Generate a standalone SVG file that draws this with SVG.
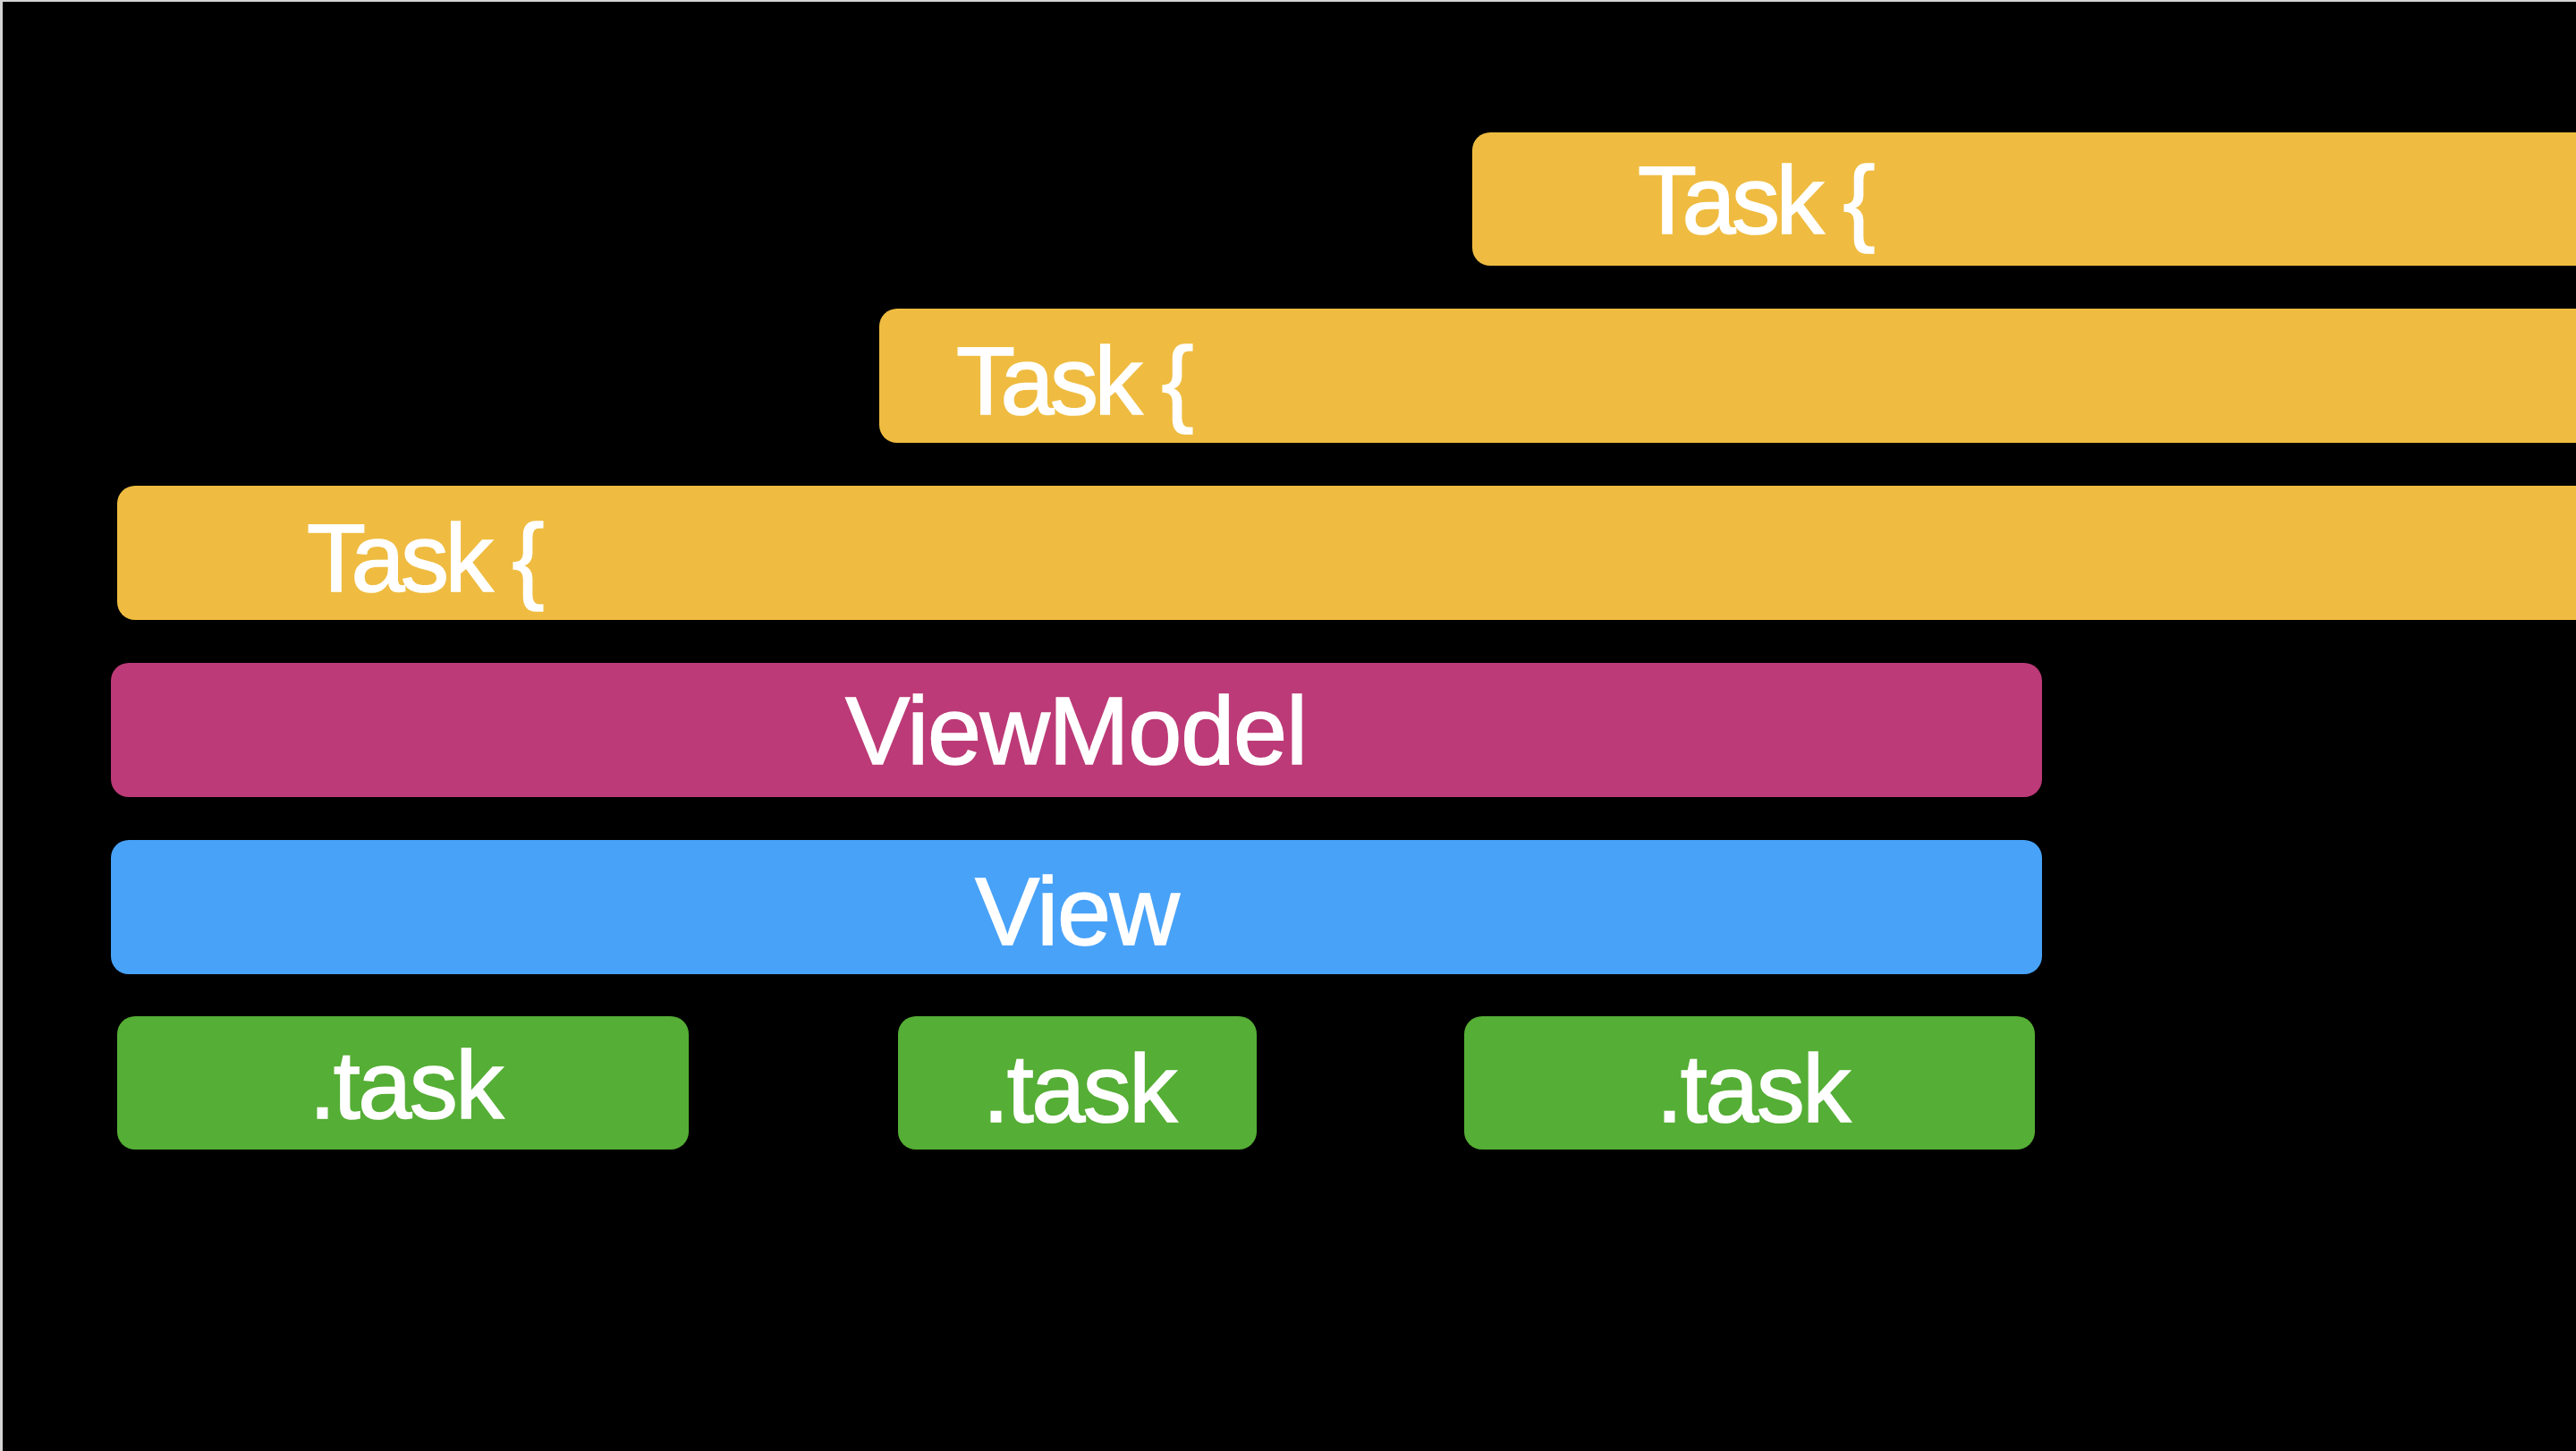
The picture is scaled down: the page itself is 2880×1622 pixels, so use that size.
<svg xmlns="http://www.w3.org/2000/svg" width="2880" height="1622" viewBox="0 0 2880 1622">
<style>
.lbl{font-family:"Liberation Sans",Arial,sans-serif;font-size:108px;fill:#ffffff;stroke:#ffffff;stroke-width:1.6px}
.task{fill:#EFBC41}
.vm{fill:#BC3A77}
.view{fill:#48A2F8}
.mod{fill:#55AE35}
.t{letter-spacing:-4.5px}
.d{text-anchor:middle;letter-spacing:-2.6px}
.c{text-anchor:middle;letter-spacing:-1.2px}
</style>
<rect x="0" y="0" width="2880" height="1622" fill="#000000"/>
<rect x="0" y="0" width="2880" height="2" fill="#d4d4d4"/>
<rect x="0" y="0" width="3" height="1622" fill="#d4d4d4"/>
<g id="task-top">
<rect class="task" x="1646" y="148" width="1274" height="149" rx="20"/>
<text class="lbl t" x="1831" y="261">Task {</text>
</g>
<g id="task-middle">
<rect class="task" x="983" y="345" width="1937" height="150" rx="20"/>
<text class="lbl t" x="1069" y="463">Task {</text>
</g>
<g id="task-bottom">
<rect class="task" x="131" y="543" width="2789" height="150" rx="20"/>
<text class="lbl t" x="343" y="661">Task {</text>
</g>
<g id="viewmodel">
<rect class="vm" x="124" y="741" width="2159" height="150" rx="20"/>
<text class="lbl c" x="1203" y="854">ViewModel</text>
</g>
<g id="view">
<rect class="view" x="124" y="939" width="2159" height="150" rx="20"/>
<text class="lbl c" x="1204" y="1056">View</text>
</g>
<g id="task-modifier-1">
<rect class="mod" x="131" y="1136" width="639" height="149" rx="20"/>
<text class="lbl d" x="453" y="1250">.task</text>
</g>
<g id="task-modifier-2">
<rect class="mod" x="1004" y="1136" width="401" height="149" rx="20"/>
<text class="lbl d" x="1206" y="1254">.task</text>
</g>
<g id="task-modifier-3">
<rect class="mod" x="1637" y="1136" width="638" height="149" rx="20"/>
<text class="lbl d" x="1959" y="1254">.task</text>
</g>
</svg>
